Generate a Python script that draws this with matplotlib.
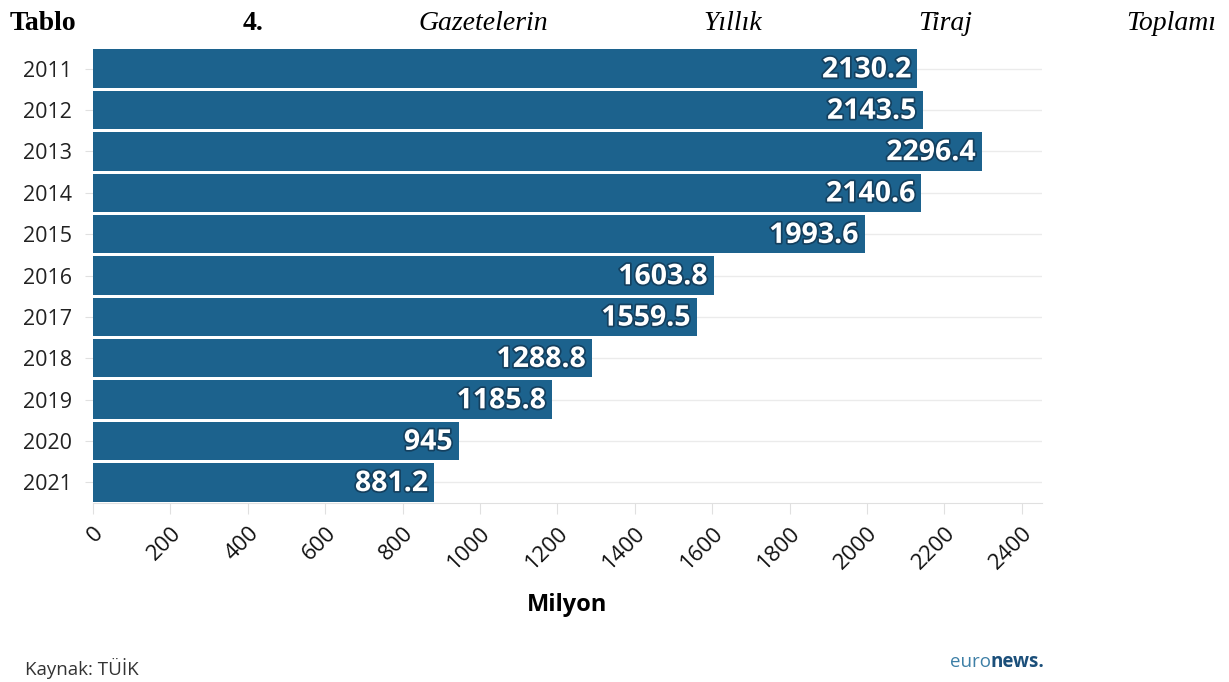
import matplotlib
matplotlib.use("Agg")
import matplotlib.pyplot as plt
import matplotlib.patheffects as pe

years = ["2011", "2012", "2013", "2014", "2015", "2016", "2017", "2018", "2019", "2020", "2021"]
values = [2130.2, 2143.5, 2296.4, 2140.6, 1993.6, 1603.8, 1559.5, 1288.8, 1185.8, 945, 881.2]
value_labels = ["2130.2", "2143.5", "2296.4", "2140.6", "1993.6", "1603.8", "1559.5", "1288.8", "1185.8", "945", "881.2"]
xticks = [0, 200, 400, 600, 800, 1000, 1200, 1400, 1600, 1800, 2000, 2200, 2400]

W, H = 1229, 682
fig = plt.figure(figsize=(W / 100, H / 100), dpi=100)
ax = fig.add_axes([93 / W, 1 - 503 / H, (1042 - 93) / W, (503 - 48) / H])

bar_color = "#1c628d"
ypos = list(range(len(years)))
ax.barh(ypos, values, height=0.93, color=bar_color, zorder=2)
ax.set_ylim(len(years) - 0.5, -0.5)
ax.set_xlim(0, 2452)

for y, v, lab in zip(ypos, values, value_labels):
    t = ax.text(v - 6 * 2452 / 949, y + 0.03, lab, ha="right", va="center", color="white",
                fontsize=20.5, fontweight="bold", family="Open Sans", zorder=3)
    t.set_path_effects([pe.withStroke(linewidth=2.5, foreground="#14405f")])

ax.set_yticks(ypos)
ax.set_yticklabels(years, family="Open Sans", fontsize=15.5, color="#222222")
ax.set_xticks(xticks)
ax.set_xticklabels([str(x) for x in xticks], rotation=45, ha="right", va="top",
                   rotation_mode="anchor", family="Open Sans", fontsize=16, color="#111111")
ax.tick_params(axis="y", length=6, color="#e0e0e0", pad=9)
ax.tick_params(axis="x", length=8, color="#e0e0e0", pad=6)

ax.grid(axis="y", color="#ebebeb", linewidth=1, zorder=0)
ax.grid(axis="x", visible=False)
for s in ["top", "right", "left"]:
    ax.spines[s].set_visible(False)
ax.spines["bottom"].set_color("#e0e0e0")
ax.set_xlabel("Milyon", family="Open Sans", fontsize=17, fontweight="bold", labelpad=14)

# title line (justified words)
base = 1 - 30 / H
fs = 20
fig.text(10 / W, base, "Tablo", fontsize=fs, fontweight="bold", family="Liberation Serif", va="baseline")
fig.text(243 / W, base, "4.", fontsize=fs, fontweight="bold", family="Liberation Serif", va="baseline")
fig.text(418 / W, base, "Gazetelerin", fontsize=fs, style="italic", family="Liberation Serif", va="baseline")
fig.text(703 / W, base, "Yıllık", fontsize=fs, style="italic", family="Liberation Serif", va="baseline")
fig.text(918 / W, base, "Tiraj", fontsize=fs, style="italic", family="Liberation Serif", va="baseline")
fig.text(1216 / W, base, "Toplamı", fontsize=fs, style="italic", family="Liberation Serif", va="baseline", ha="right")

fig.text(25 / W, 1 - 668 / H, "Kaynak: TÜİK", fontsize=13.5, family="Open Sans", color="#333333", va="center")
t1 = fig.text(950 / W, 1 - 662 / H, "euro", fontsize=13.5, family="Open Sans", color="#3d7fa6", va="center")
fig.canvas.draw()
bb = t1.get_window_extent()
fig.text(bb.x1 / W, 1 - 662 / H, "news.", fontsize=13.5, family="Open Sans", fontweight="bold",
         color="#1b4f7a", va="center")

fig.savefig("out.png", dpi=100)
